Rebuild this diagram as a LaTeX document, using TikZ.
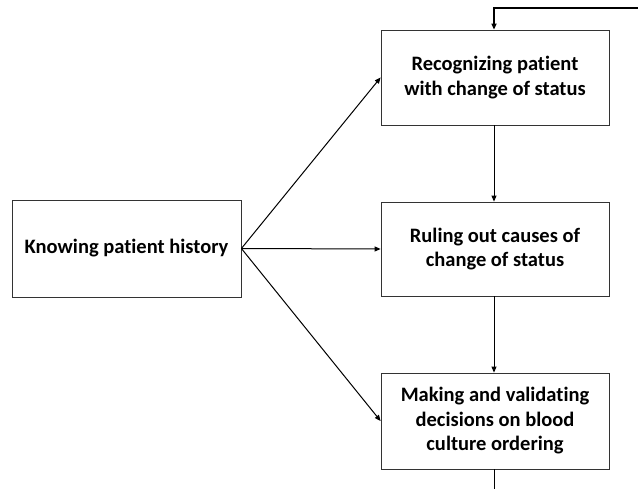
\documentclass[tikz,border=0pt]{standalone}
\usepackage{fontspec}
\setmainfont[Ligatures={NoCommon}]{Carlito}
\usetikzlibrary{arrows.meta}
\begin{document}
\begin{tikzpicture}[x=1pt,y=-1pt,
  box/.style={draw=black!80,line width=0.8pt,fill=white,inner sep=0pt,align=center,font=\bfseries\fontsize{20.5}{24.5}\selectfont},
  arr/.style={-{Triangle[length=6pt,width=5pt]},line width=1pt}]
\useasboundingbox (0,0) rectangle (638,489);
\node[box,minimum width=229pt,minimum height=97pt] (hist) at (126.5,248.5) {Knowing patient history};
\node[box,minimum width=228pt,minimum height=95pt] (rec) at (495,77.5) {Recognizing patient\\with change of status};
\node[box,minimum width=228pt,minimum height=94pt] (rul) at (495,249) {Ruling out causes of\\change of status};
\node[box,minimum width=228pt,minimum height=96pt] (mak) at (495,421) {Making and validating\\decisions on blood\\culture ordering};
\coordinate (topin) at (638,8);
\coordinate (botout) at (494,489);
\draw[arr] (hist.east) -- (rec.west);
\draw[arr] (hist.east) -- (rul.west);
\draw[arr] (hist.east) -- (mak.west);
\draw[arr] (rec.south -| 494,0) -- (rul.north -| 494,0);
\draw[arr] (rul.south -| 494,0) -- (mak.north -| 494,0);
\draw[line width=1pt] (mak.south -| 494,0) -- (botout);
\draw[arr,line width=1.8pt] (topin) -- (494,8) -- (rec.north -| 494,0);
\end{tikzpicture}
\end{document}
